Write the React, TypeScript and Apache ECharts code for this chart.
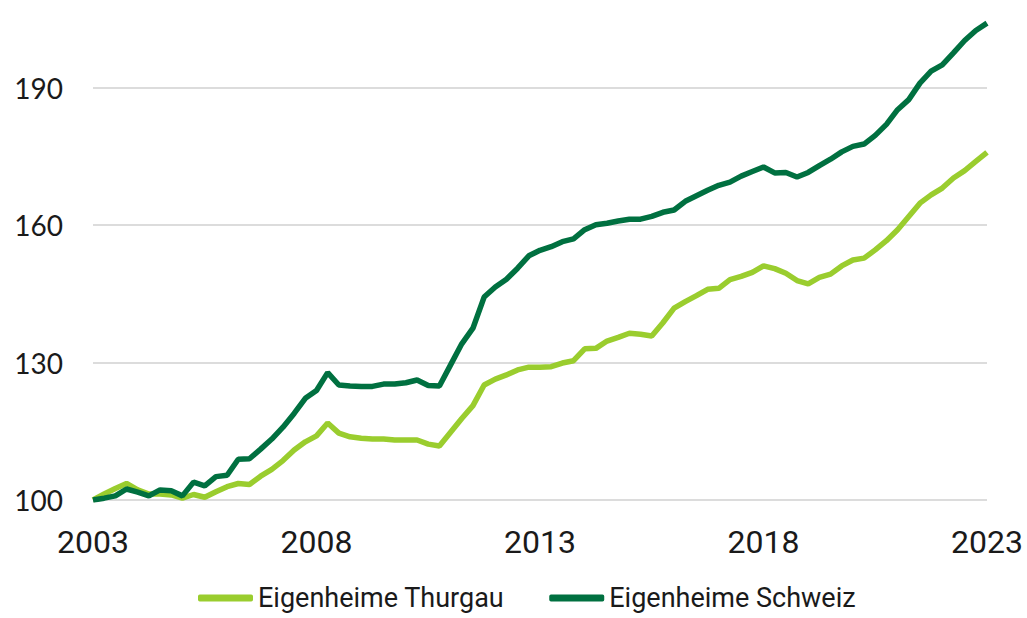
import React, { useEffect, useRef } from "react";
import * as echarts from "echarts";

const seriesNames = ["Eigenheime Thurgau", "Eigenheime Schweiz"];
const startYear = 2003;
const quarterCount = 81;
const yTicks = [100, 130, 160, 190];

const thurgau = [
  100.0, 101.3, 102.5, 103.6, 102.2, 101.3, 101.3, 101.1, 100.4, 101.2,
  100.6, 101.8, 102.9, 103.6, 103.4, 105.2, 106.7, 108.6, 110.9, 112.7,
  114.0, 116.8, 114.6, 113.8, 113.5, 113.3, 113.3, 113.1, 113.1, 113.1,
  112.2, 111.8, 114.8, 117.8, 120.6, 125.1, 126.4, 127.3, 128.4, 129.0,
  129.0, 129.1, 129.9, 130.4, 133.0, 133.1, 134.7, 135.5, 136.4, 136.2,
  135.8, 138.7, 141.9, 143.3, 144.6, 146.0, 146.2, 148.1, 148.8, 149.7,
  151.1, 150.5, 149.5, 147.9, 147.2, 148.6, 149.3, 151.1, 152.4, 152.8,
  154.6, 156.6, 159.0, 161.9, 164.8, 166.6, 168.1, 170.3, 171.9, 173.9,
  175.9,
];

const schweiz = [
  100.0, 100.4, 100.9, 102.4, 101.7, 100.9, 102.2, 102.0, 100.9, 103.9,
  103.1, 105.1, 105.4, 108.9, 109.0, 111.1, 113.3, 115.9, 118.9, 122.2,
  123.9, 127.8, 125.1, 124.9, 124.8, 124.8, 125.3, 125.3, 125.6, 126.2,
  125.0, 124.9, 129.5, 134.1, 137.5, 144.3, 146.5, 148.2, 150.6, 153.3,
  154.5, 155.3, 156.4, 157.0, 159.0, 160.1, 160.4, 160.9, 161.3, 161.3,
  161.9, 162.8, 163.3, 165.2, 166.4, 167.6, 168.7, 169.4, 170.7, 171.7,
  172.7, 171.4, 171.5, 170.5, 171.5, 173.0, 174.4, 176.0, 177.2, 177.7,
  179.6, 182.0, 185.2, 187.4, 191.0, 193.6, 195.0, 197.6, 200.3, 202.5,
  204.1,
];

const categories: string[] = [];
for (let i = 0; i < quarterCount; i++) {
  categories.push(`${startYear + Math.floor(i / 4)}Q${(i % 4) + 1}`);
}

const COLORS = ["#9acd2e", "#007040"];
const FONT = "Roboto, sans-serif";

export default function App() {
  const ref = useRef<HTMLDivElement>(null);
  useEffect(() => {
    if (!ref.current) return;
    const chart = echarts.init(ref.current, null, { renderer: "svg" });
    chart.setOption({
      animation: false,
      color: COLORS,
      grid: { left: 93, right: 40, top: 19, bottom: 118, containLabel: false },
      legend: {
        top: 583,
        left: 198,
        padding: 0,
        icon: "roundRect",
        itemWidth: 55,
        itemHeight: 7,
        itemGap: 45,
        textStyle: {
          fontFamily: FONT,
          fontSize: 27,
          lineHeight: 30,
          color: "#1a1a1a",
        },
        data: seriesNames,
      },
      xAxis: {
        type: "category",
        data: categories,
        boundaryGap: false,
        axisLine: { show: false },
        axisTick: { show: false },
        splitLine: { show: false },
        axisLabel: {
          interval: 19,
          margin: 26,
          fontSize: 32,
          lineHeight: 32,
          color: "#1a1a1a",
          fontFamily: FONT,
          formatter: (v: string) => v.slice(0, 4),
        },
      },
      yAxis: {
        type: "value",
        min: 100,
        max: 205,
        interval: 30,
        axisLine: { show: false },
        axisTick: { show: false },
        splitLine: { show: true, showMaxLine: false, lineStyle: { color: "#d0d0d0", width: 1.5 } },
        axisLabel: {
          margin: 30,
          fontSize: 28,
          color: "#1a1a1a",
          fontFamily: "Lato, sans-serif",
          showMaxLabel: false,
          formatter: (v: number) => (yTicks.includes(v) ? String(v) : ""),
        },
      },
      series: [
        {
          name: seriesNames[0],
          type: "line",
          data: thurgau,
          symbol: "none",
          lineStyle: { width: 5.5, color: COLORS[0] },
        },
        {
          name: seriesNames[1],
          type: "line",
          data: schweiz,
          symbol: "none",
          lineStyle: { width: 5.5, color: COLORS[1] },
        },
      ],
    });
    return () => chart.dispose();
  }, []);
  return (
    <div
      ref={ref}
      style={{ position: "absolute", left: 0, top: 0, width: 1027, height: 618 }}
    />
  );
}
